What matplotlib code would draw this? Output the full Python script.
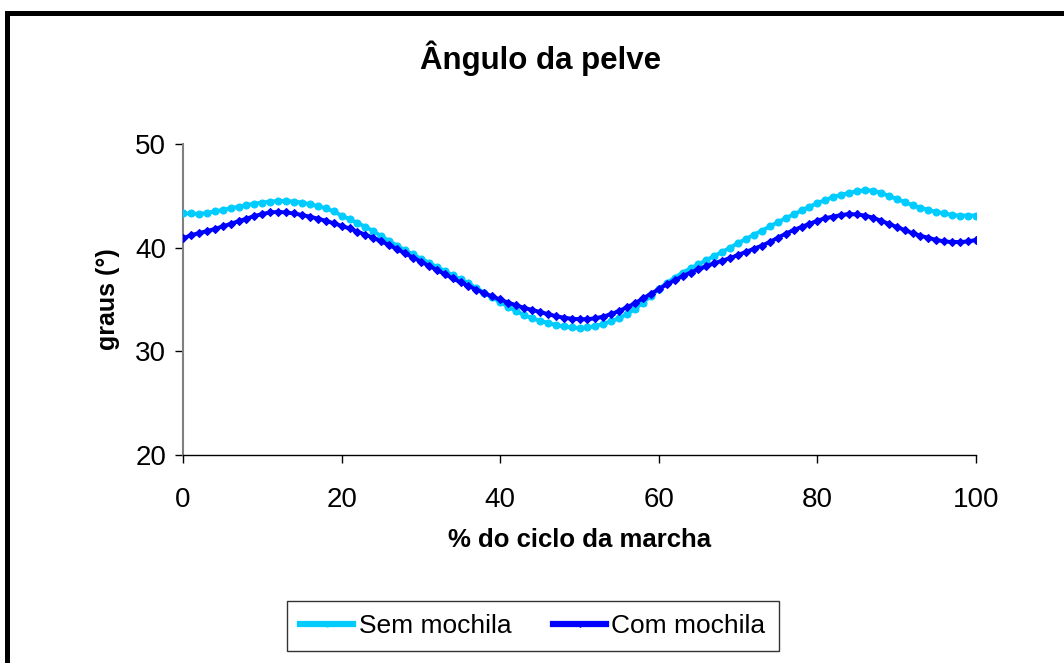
import matplotlib
matplotlib.use("Agg")
import matplotlib.pyplot as plt
from matplotlib.patches import Rectangle

plt.rcParams['font.family'] = ['Liberation Sans', 'DejaVu Sans']

x = list(range(0, 101))
sem_mochila = [
    43.3, 43.3, 43.25, 43.35, 43.5, 43.65, 43.8, 43.95, 44.1, 44.25,
    44.35, 44.45, 44.5, 44.5, 44.45, 44.35, 44.2, 44.0, 43.8, 43.5,
    43.1, 42.75, 42.4, 42.0, 41.6, 41.1, 40.65, 40.2, 39.75, 39.35,
    38.95, 38.55, 38.15, 37.75, 37.35, 36.95, 36.55, 36.1, 35.65, 35.2,
    34.75, 34.3, 33.9, 33.5, 33.2, 32.95, 32.75, 32.55, 32.4, 32.3,
    32.25, 32.3, 32.45, 32.65, 32.9, 33.2, 33.6, 34.1, 34.7, 35.35,
    36.0, 36.6, 37.1, 37.6, 38.0, 38.4, 38.8, 39.2, 39.6, 40.0,
    40.45, 40.85, 41.25, 41.65, 42.05, 42.45, 42.85, 43.2, 43.6, 43.95,
    44.3, 44.6, 44.9, 45.1, 45.3, 45.45, 45.55, 45.5, 45.3, 45.0,
    44.7, 44.4, 44.1, 43.85, 43.65, 43.45, 43.3, 43.15, 43.1, 43.1,
    43.1,
]
com_mochila = [
    40.9, 41.2, 41.4, 41.6, 41.8, 42.05, 42.3, 42.55, 42.8, 43.05,
    43.25, 43.4, 43.45, 43.4, 43.3, 43.15, 43.0, 42.8, 42.6, 42.35,
    42.1, 41.85, 41.55, 41.25, 40.95, 40.6, 40.25, 39.85, 39.45, 39.05,
    38.65, 38.25, 37.85, 37.45, 37.05, 36.65, 36.3, 35.95, 35.6, 35.3,
    35.0, 34.7, 34.45, 34.2, 34.0, 33.8, 33.6, 33.4, 33.25, 33.15,
    33.1, 33.1, 33.2, 33.35, 33.6, 33.9, 34.25, 34.65, 35.1, 35.55,
    36.0, 36.45, 36.85, 37.25, 37.6, 37.9, 38.2, 38.5, 38.75, 39.0,
    39.3, 39.6, 39.9, 40.2, 40.55, 40.95, 41.35, 41.7, 42.0, 42.3,
    42.6, 42.85, 43.0, 43.15, 43.25, 43.2, 43.1, 42.9, 42.6, 42.3,
    42.0, 41.7, 41.4, 41.15, 40.95, 40.75, 40.6, 40.55, 40.55, 40.6,
    40.75,
]
xticks = [0, 20, 40, 60, 80, 100]
yticks = [20, 30, 40, 50]

W, H = 1064, 663
fig = plt.figure(figsize=(W / 100, H / 100), dpi=100)
ax = fig.add_axes([183 / W, 1 - 455 / H, (976 - 183) / W, (455 - 144) / H])

ax.plot(x, sem_mochila, color='#00CCFF', lw=2.8, marker='o', ms=5,
        markeredgewidth=0.8, label='Sem mochila', zorder=3)
ax.plot(x, com_mochila, color='#0000FF', lw=2.8, marker='D', ms=4.2,
        markeredgewidth=0.8, label='Com mochila', zorder=4)

ax.set_xlim(0, 100)
ax.set_ylim(20, 50)
ax.set_xticks(xticks)
ax.set_yticks(yticks)
ax.tick_params(axis='both', direction='out', length=6, width=1, labelsize=20, colors='black')
ax.tick_params(axis='x', pad=17)
ax.tick_params(axis='y', pad=6)
for s in ['top', 'right']:
    ax.spines[s].set_visible(False)
ax.spines['left'].set_color('#808080')
ax.spines['left'].set_linewidth(1.5)
ax.spines['bottom'].set_color('black')
ax.spines['bottom'].set_linewidth(1)

fig.text(541 / W, 1 - 58 / H, 'Ângulo da pelve', fontsize=22.5, fontweight='bold',
         ha='center', va='center')
fig.text(580 / W, 1 - 540 / H, '% do ciclo da marcha', fontsize=18.5, fontweight='bold',
         ha='center', va='center')
fig.text(108 / W, 1 - 299 / H, 'graus (°)', fontsize=18, fontweight='bold',
         ha='center', va='center', rotation=90)

leg = fig.legend(loc='center', bbox_to_anchor=(533 / W, 1 - 626 / H), ncol=2,
                 fontsize=19, frameon=True, fancybox=False, edgecolor='black',
                 handlelength=2.0, handletextpad=0.2, columnspacing=1.6,
                 borderpad=0.5, markerscale=0.7)
leg.get_frame().set_linewidth(1)
for h in leg.get_lines():
    h.set_linewidth(4.5)

frame = Rectangle((6.5 / W, -0.2), 1.2, 1.2 - 12.5 / H, transform=fig.transFigure,
                  fill=False, edgecolor='black', lw=3.6)
fig.add_artist(frame)

fig.savefig('out.png', dpi=100)
